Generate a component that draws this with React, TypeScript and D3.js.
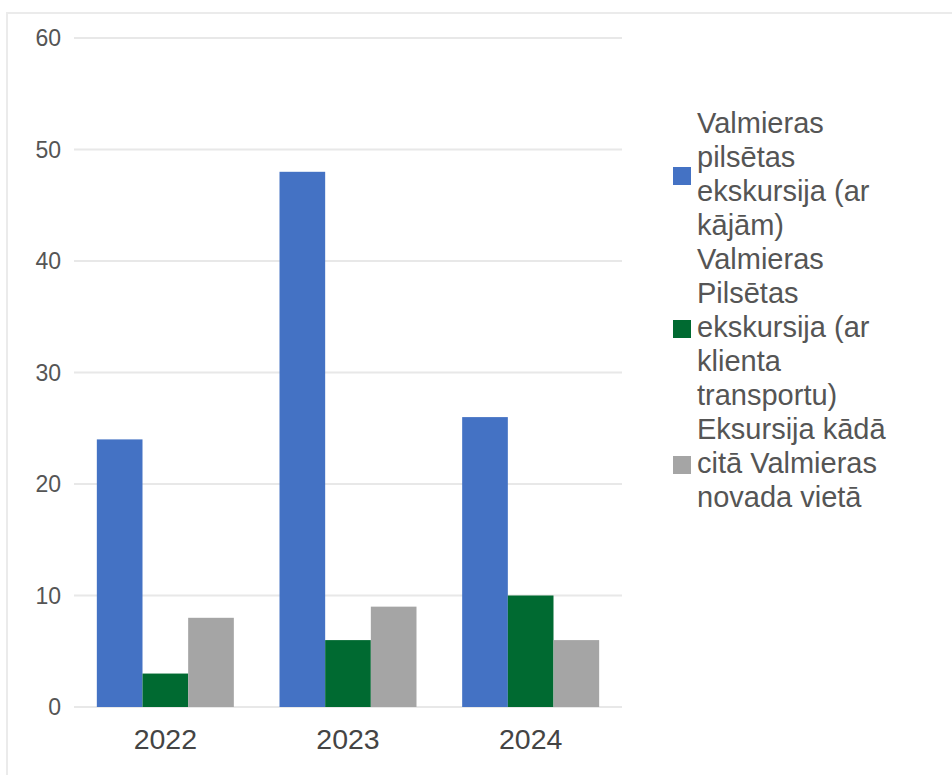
import React, { useRef, useEffect } from "react";
import * as d3 from "d3";

const years: string[] = ["2022", "2023", "2024"];
const seriesNames: string[][] = [
  ["Valmieras", "pilsētas", "ekskursija (ar", "kājām)"],
  ["Valmieras", "Pilsētas", "ekskursija (ar", "klienta", "transportu)"],
  ["Eksursija kādā", "citā Valmieras", "novada vietā"],
];
const seriesColors: string[] = ["#4472c4", "#006a31", "#a5a5a5"];
const walking: number[] = [24, 48, 26];
const clientTransport: number[] = [3, 6, 10];
const elsewhere: number[] = [8, 9, 6];
const yTicks: number[] = [0, 10, 20, 30, 40, 50, 60];

export default function App() {
  const chartRef = useRef<SVGSVGElement>(null);

  useEffect(() => {
    if (!chartRef.current) return;
    const svg = d3.select(chartRef.current);
    svg.selectAll("*").remove();

    const width = 952;
    const height = 775;
    const left = 74, right = 622, top = 38, bottom = 707;
    const font = "Arial, 'Liberation Sans', sans-serif";

    svg.attr("width", width).attr("height", height);

    // frame of the chart box
    svg.append("path")
      .attr("d", `M7,${height} V13 H${width}`)
      .attr("fill", "none")
      .attr("stroke", "#ebebeb")
      .attr("stroke-width", 2);

    const x = d3.scaleBand<string>()
      .domain(years)
      .range([left, right])
      .paddingInner(0.25)
      .paddingOuter(0.125);
    const names = ["walking", "client", "elsewhere"];
    const xs = d3.scaleBand<string>().domain(names).range([0, x.bandwidth()]);
    const y = d3.scaleLinear().domain([0, 60]).range([bottom, top]);

    // gridlines
    svg.append("g")
      .selectAll("line")
      .data(yTicks)
      .join("line")
      .attr("x1", left)
      .attr("x2", right)
      .attr("y1", (d) => y(d))
      .attr("y2", (d) => y(d))
      .attr("stroke", "#e8e8e8")
      .attr("stroke-width", 2);

    svg.append("g")
      .selectAll("text")
      .data(yTicks)
      .join("text")
      .attr("x", 61)
      .attr("y", (d) => y(d))
      .attr("dy", "0.36em")
      .attr("text-anchor", "end")
      .attr("font-family", font)
      .attr("font-size", 23)
      .attr("fill", "#555")
      .text((d) => d);

    const series = [walking, clientTransport, elsewhere];
    series.forEach((vals, si) => {
      svg.append("g")
        .selectAll("rect")
        .data(vals)
        .join("rect")
        .attr("x", (_, i) => (x(years[i]) ?? 0) + (xs(names[si]) ?? 0))
        .attr("width", xs.bandwidth())
        .attr("y", (d) => y(d))
        .attr("height", (d) => y(0) - y(d))
        .attr("fill", seriesColors[si]);
    });

    svg.append("g")
      .selectAll("text")
      .data(years)
      .join("text")
      .attr("x", (d) => (x(d) ?? 0) + x.bandwidth() / 2)
      .attr("y", 749)
      .attr("text-anchor", "middle")
      .attr("font-family", font)
      .attr("font-size", 28.5)
      .attr("fill", "#444")
      .text((d) => d);

    // legend
    const lineH = 34;
    let line = 0;
    const legend = svg.append("g");
    seriesNames.forEach((lines, si) => {
      const firstCenter = 123 + line * lineH;
      const mid = firstCenter + ((lines.length - 1) * lineH) / 2;
      legend.append("rect")
        .attr("x", 673)
        .attr("y", mid - 9 + 2)
        .attr("width", 18)
        .attr("height", 18)
        .attr("fill", seriesColors[si]);
      lines.forEach((t, li) => {
        legend.append("text")
          .attr("x", 697)
          .attr("y", firstCenter + li * lineH)
          .attr("dy", "0.36em")
          .attr("font-family", font)
          .attr("font-size", 29)
          .attr("fill", "#555")
          .text(t);
      });
      line += lines.length;
    });
  }, []);

  return <svg ref={chartRef} style={{ position: "absolute", left: 0, top: 0 }} />;
}
